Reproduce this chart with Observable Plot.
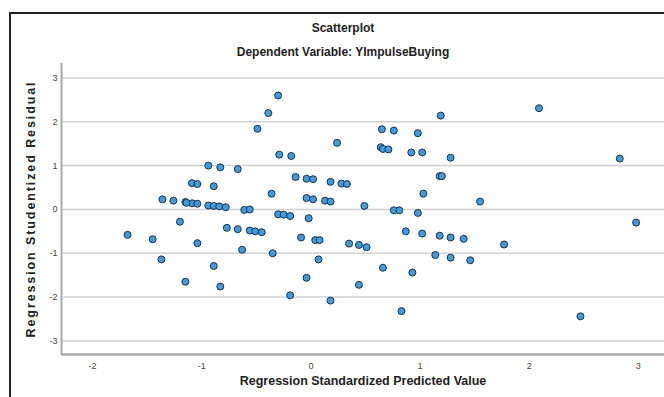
<!DOCTYPE html>
<html>
<head>
<meta charset="utf-8">
<script src="https://cdn.jsdelivr.net/npm/d3@7"></script>
<script src="https://cdn.jsdelivr.net/npm/@observablehq/plot@0.6"></script>
<style>
  html, body { margin: 0; padding: 0; background: #fff; }
  #wrap { position: relative; width: 664px; height: 397px; overflow: hidden; font-family: "Liberation Sans", Arial, sans-serif; }
  #border { position: absolute; left: 9px; top: 12px; width: 700px; height: 420px; border: 2px solid #222; box-sizing: border-box; }
  .title { position: absolute; left: 9px; width: 668px; text-align: center; font-weight: bold; font-size: 12px; line-height: 14px; color: #222; }
  #chart { position: absolute; left: 0; top: 0; }
</style>
</head>
<body>
<div id="wrap">
  <div id="border"></div>
  <div class="title" style="top:21px">Scatterplot</div>
  <div class="title" style="top:45px">Dependent Variable: YImpulseBuying</div>
  <div id="chart"></div>
</div>
<script>
const titleText = "Scatterplot";
const subtitleText = "Dependent Variable: YImpulseBuying";
const xLabel = "Regression Standardized Predicted Value";
const yLabel = "Regression Studentized Residual";
const xTicks = [-2, -1, 0, 1, 2, 3];
const yTicks = [-3, -2, -1, 0, 1, 2, 3];
const xDomain = [-2.285, 3.24];
const yDomain = [-3.31, 3.33];

const predicted = [
  -0.94, -0.83, -0.67, -1.09, -1.04, -0.89, -1.36, -1.26, -1.15, -1.09,
  -1.04, -0.94, -0.89, -0.84, -0.78, -0.61, -0.56, -1.68, -1.45, -1.20,
  -1.04, -0.77, -0.67, -0.56, -0.51, -0.45, -1.37, -0.63, -0.89, -1.15,
  -0.83, -0.30, -0.39, 1.19, -0.49, 0.65, 0.76, 0.98, 0.24, -0.29,
  -0.18, 0.64, 0.66, 0.71, 0.92, 1.02, 1.28, -0.14, -0.04, 0.02,
  0.18, 0.28, 0.33, 1.18, 1.20, -0.36, 1.03, -0.04, 0.02, 0.13,
  0.18, 0.49, 0.76, 0.81, -0.30, -0.25, -0.19, -0.02, -0.09, 0.04,
  0.08, 0.35, 0.44, 0.51, -0.35, 0.07, 0.66, 0.93, -0.04, 0.44,
  -0.19, 0.18, 0.83, 0.87, 0.98, 1.02, 1.18, 1.28, 1.14, 1.28,
  1.55, 1.40, 1.77, 1.46, 2.98, 2.47, 2.09, 2.83, -1.14
];
const residual = [
  1.00, 0.96, 0.92, 0.60, 0.58, 0.53, 0.23, 0.20, 0.17, 0.14,
  0.13, 0.09, 0.08, 0.07, 0.05, -0.01, 0.00, -0.58, -0.68, -0.28,
  -0.77, -0.42, -0.45, -0.48, -0.50, -0.52, -1.14, -0.92, -1.29, -1.65,
  -1.76, 2.60, 2.20, 2.14, 1.84, 1.83, 1.80, 1.74, 1.52, 1.25,
  1.22, 1.42, 1.38, 1.37, 1.30, 1.30, 1.18, 0.74, 0.70, 0.69,
  0.63, 0.59, 0.58, 0.76, 0.76, 0.36, 0.36, 0.26, 0.23, 0.20,
  0.18, 0.08, -0.02, -0.02, -0.11, -0.12, -0.15, -0.20, -0.64, -0.70,
  -0.70, -0.78, -0.81, -0.86, -1.00, -1.14, -1.33, -1.44, -1.56, -1.72,
  -1.96, -2.08, -2.32, -0.50, -0.08, -0.55, -0.60, -0.64, -1.04, -1.10,
  0.18, -0.67, -0.80, -1.16, -0.30, -2.44, 2.31, 1.16, 0.15
];

const points = predicted.map((x, i) => ({x, y: residual[i]}));

const chart = Plot.plot({
  width: 664,
  height: 397,
  marginLeft: 61,
  marginRight: 0,
  marginTop: 63,
  marginBottom: 43,
  style: { background: "transparent", fontFamily: "'Liberation Sans', Arial, sans-serif", overflow: "visible" },
  x: { domain: xDomain },
  y: { domain: yDomain },
  marks: [
    Plot.gridY(yTicks, { stroke: "#d2d2d2", strokeOpacity: 1, strokeWidth: 1.5 }),
    Plot.ruleX([xDomain[0]], { stroke: "#aaaaaa", strokeWidth: 2 }),
    Plot.ruleY([yDomain[0]], { stroke: "#aaaaaa", strokeWidth: 2.5 }),
    Plot.axisY(yTicks, { tickSize: 0, tickPadding: 4, fontSize: 9, fill: "#444", label: null, tickFormat: d => String(d) }),
    Plot.axisX(xTicks, { tickSize: 0, tickPadding: 8, fontSize: 9, fill: "#444", label: null, tickFormat: d => String(d) }),
    Plot.dot(points, { x: "x", y: "y", r: 3.5, fill: "#449bd8", fillOpacity: 1, stroke: "#17324f", strokeWidth: 1 }),
    Plot.text([xLabel], { text: d => d, frameAnchor: "bottom", dy: 30, fontSize: 12.5, fontWeight: "bold", fill: "#222" }),
    Plot.text([yLabel], { text: d => d, frameAnchor: "left", textAnchor: "middle", dx: -31, rotate: -90, fontSize: 12.5, fontWeight: "bold", fill: "#222" })
  ]
});
chart.querySelectorAll("text").forEach(t => {
  if (t.textContent === yLabel) t.setAttribute("letter-spacing", "1.9px");
});
document.getElementById("chart").appendChild(chart);
</script>
</body>
</html>
